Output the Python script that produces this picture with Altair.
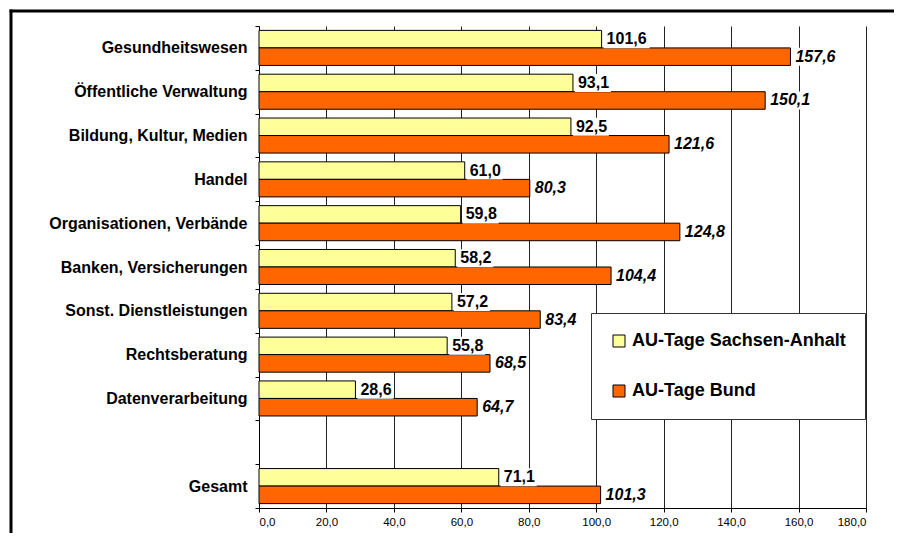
import altair as alt
import pandas as pd

categories = [
    "Gesundheitswesen",
    "Öffentliche Verwaltung",
    "Bildung, Kultur, Medien",
    "Handel",
    "Organisationen, Verbände",
    "Banken, Versicherungen",
    "Sonst. Dienstleistungen",
    "Rechtsberatung",
    "Datenverarbeitung",
    "Gesamt",
]
sachsen_anhalt = [101.6, 93.1, 92.5, 61.0, 59.8, 58.2, 57.2, 55.8, 28.6, 71.1]
bund = [157.6, 150.1, 121.6, 80.3, 124.8, 104.4, 83.4, 68.5, 64.7, 101.3]
series_names = ["AU-Tage Sachsen-Anhalt", "AU-Tage Bund"]
x_ticks = [0, 20, 40, 60, 80, 100, 120, 140, 160, 180]

y_domain = categories[:-1] + [" "] + categories[-1:]

rows = []
for c, s, b in zip(categories, sachsen_anhalt, bund):
    for name, v in zip(series_names, (s, b)):
        rows.append({"cat": c, "serie": name, "value": v,
                     "label": f"{v:.1f}".replace(".", ",")})
df = pd.DataFrame(rows)
df["nchar"] = df["label"].str.len()

FONT = "Liberation Sans"
W, H = 607, 482
PAD = {"left": 251, "top": 18, "right": 28, "bottom": 25}

y_enc = alt.Y("cat:N",
              scale=alt.Scale(domain=y_domain, paddingInner=0, paddingOuter=0),
              axis=alt.Axis(title=None, tickBand="extent", labelFontSize=16,
                            labelFontWeight="bold", labelFont=FONT,
                            labelColor="black", labelLimit=400,
                            labelPadding=8, tickSize=4, tickColor="black",
                            domainColor="black", grid=False))
yoff_enc = alt.YOffset("serie:N",
                       scale=alt.Scale(domain=series_names, paddingInner=0,
                                       paddingOuter=0.25))
x_enc = alt.X("value:Q",
              scale=alt.Scale(domain=[0, 180], nice=False),
              axis=alt.Axis(title=None, values=x_ticks,
                            labelExpr="replace(format(datum.value, '.1f'), '.', ',')",
                            labelFontSize=11.5, labelFont=FONT, labelColor="black",
                            labelPadding=4, tickSize=4, tickColor="black",
                            domainColor="black", grid=True, gridColor="#222",
                            gridWidth=1, gridOpacity=1))

base = alt.Chart(df)

bars = base.mark_bar(stroke="black", strokeWidth=1).encode(
    y=y_enc, yOffset=yoff_enc, x=x_enc,
    color=alt.Color("serie:N",
                    scale=alt.Scale(domain=series_names,
                                    range=["#FFFF99", "#FF6600"]),
                    legend=alt.Legend(title=None, orient="none",
                                      legendX=332, legendY=287,
                                      symbolType="square", symbolSize=144,
                                      symbolStrokeColor="black",
                                      symbolStrokeWidth=1,
                                      labelFont=FONT, labelFontSize=18,
                                      labelFontWeight="bold",
                                      labelColor="black", labelOffset=4,
                                      labelLimit=400, rowPadding=32, padding=19,
                                      strokeColor="#333", fillColor="white")),
)

box4 = base.transform_filter("datum.nchar == 4").mark_tick(
    thickness=36, size=18, color="white", opacity=1, xOffset=20
).encode(y="cat:N", yOffset="serie:N", x="value:Q")

box5 = base.transform_filter("datum.nchar == 5").mark_tick(
    thickness=46, size=18, color="white", opacity=1, xOffset=25
).encode(y="cat:N", yOffset="serie:N", x="value:Q")

txt_sa = base.transform_filter(f"datum.serie == '{series_names[0]}'").mark_text(
    align="left", baseline="middle", dx=5, font=FONT, fontSize=16,
    fontWeight="bold", color="black"
).encode(y="cat:N", yOffset="serie:N", x="value:Q", text="label:N")

txt_b = base.transform_filter(f"datum.serie == '{series_names[1]}'").mark_text(
    align="left", baseline="middle", dx=5, font=FONT, fontSize=16,
    fontWeight="bold", fontStyle="italic", color="black"
).encode(y="cat:N", yOffset="serie:N", x="value:Q", text="label:N")

# outer chart frame: only its left and top edges are visible in the reference
one = pd.DataFrame({"a": [0]})
border_left = alt.Chart(one).mark_rect(color="black", strokeWidth=0).encode(
    x=alt.value(-249.5), x2=alt.value(-246.5),
    y=alt.value(-16.5), y2=alt.value(H + PAD["bottom"]))
border_top = alt.Chart(one).mark_rect(color="black", strokeWidth=0).encode(
    x=alt.value(-249.5), x2=alt.value(W + PAD["right"]),
    y=alt.value(-16.5), y2=alt.value(-13.5))

chart = alt.layer(bars, box4, box5, txt_sa, txt_b, border_left, border_top).properties(
    width=W, height=H,
    autosize=alt.AutoSizeParams(type="none"),
    padding=PAD,
    background="white",
).configure_view(stroke=None)

chart.save("out.html", embed_options={"renderer": "svg", "actions": False})
